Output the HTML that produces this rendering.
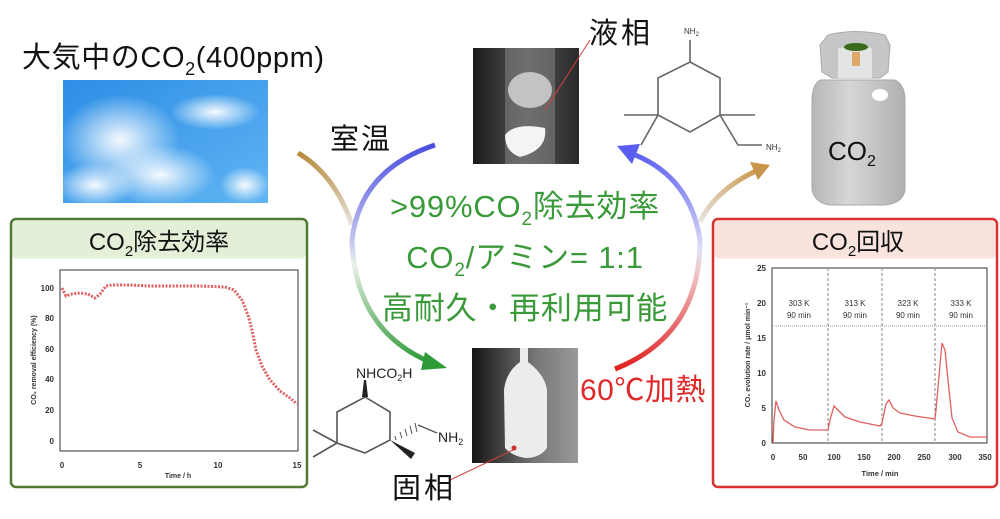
<!DOCTYPE html>
<html><head><meta charset="utf-8"><style>
body{margin:0;width:1000px;height:519px;background:#fff;overflow:hidden;position:relative;font-family:"Liberation Sans","Noto Sans CJK JP",sans-serif}
.t{position:absolute;white-space:nowrap}
</style></head><body>
<svg width="1000" height="519" style="position:absolute;left:0;top:0" font-family="Liberation Sans, Noto Sans CJK JP, sans-serif">
<defs>
<linearGradient id="sky" x1="0" y1="0" x2="1" y2="1"><stop offset="0" stop-color="#2e8ee6"/><stop offset="1" stop-color="#5fb4f2"/></linearGradient>
<radialGradient id="cl1" cx="0.5" cy="0.5" r="0.5"><stop offset="0" stop-color="#fff" stop-opacity="0.95"/><stop offset="1" stop-color="#fff" stop-opacity="0"/></radialGradient>
<linearGradient id="lg1" x1="0" y1="0" x2="0" y2="1"><stop offset="0" stop-color="#4a4ee0"/><stop offset="0.45" stop-color="#c8c8f0"/><stop offset="0.55" stop-color="#e8f0e8"/><stop offset="1" stop-color="#2f9a38"/></linearGradient>
<linearGradient id="lg2" x1="0" y1="1" x2="0" y2="0"><stop offset="0" stop-color="#e02020"/><stop offset="0.45" stop-color="#f0c8c8"/><stop offset="0.55" stop-color="#e0e0f8"/><stop offset="1" stop-color="#5a5ef0"/></linearGradient>
<linearGradient id="och1" x1="0" y1="0" x2="0" y2="1"><stop offset="0" stop-color="#b88a3c"/><stop offset="1" stop-color="#e8e4e0"/></linearGradient>
<linearGradient id="och2" x1="0" y1="1" x2="1" y2="0"><stop offset="0" stop-color="#e8e4e0"/><stop offset="1" stop-color="#c8964a"/></linearGradient>
<linearGradient id="tube1" x1="0" y1="0" x2="1" y2="0"><stop offset="0" stop-color="#1a1a1a"/><stop offset="0.5" stop-color="#555"/><stop offset="1" stop-color="#2a2a2a"/></linearGradient>
<linearGradient id="tube2" x1="0" y1="0" x2="1" y2="0"><stop offset="0" stop-color="#151515"/><stop offset="0.6" stop-color="#777"/><stop offset="1" stop-color="#999"/></linearGradient>
<linearGradient id="cyl" x1="0" y1="0" x2="1" y2="0"><stop offset="0" stop-color="#b4b6b8"/><stop offset="0.4" stop-color="#d4d6d8"/><stop offset="1" stop-color="#aeb0b2"/></linearGradient>
</defs>
<rect x="63" y="80" width="205" height="123" fill="url(#sky)"/>
<ellipse cx="120" cy="140" rx="60" ry="45" fill="url(#cl1)"/>
<ellipse cx="160" cy="175" rx="55" ry="30" fill="url(#cl1)"/>
<ellipse cx="215" cy="112" rx="45" ry="18" fill="url(#cl1)"/>
<ellipse cx="95" cy="185" rx="40" ry="22" fill="url(#cl1)"/>
<ellipse cx="245" cy="185" rx="25" ry="18" fill="url(#cl1)"/>
<path d="M298 153 Q335 175 352 225" stroke="url(#och1)" stroke-width="5" fill="none"/>
<path d="M435 145 Q360 170 352 240 Q355 330 430 362" stroke="url(#lg1)" stroke-width="5" fill="none"/>
<polygon points="447,368 425,352 421,370" fill="#2f9a38"/>
<path d="M615 369 Q700 335 700 240 Q690 175 630 153" stroke="url(#lg2)" stroke-width="5" fill="none"/>
<polygon points="617,146 640,144 632,164" fill="#5a5ef0"/>
<path d="M700 222 Q715 190 758 170" stroke="url(#och2)" stroke-width="5" fill="none"/>
<polygon points="770,165 750,162 758,180" fill="#c8964a"/>
<rect x="473" y="48" width="106" height="116" fill="url(#tube1)"/>
<rect x="505" y="48" width="50" height="116" fill="#8a8a8a" opacity="0.5"/>
<ellipse cx="530" cy="90" rx="22" ry="18" fill="#d8dadc" opacity="0.8"/>
<path d="M505 135 Q515 122 545 128 Q548 150 520 157 Q505 152 505 135Z" fill="#f4f4f4"/>
<line x1="590" y1="40" x2="545" y2="110" stroke="#d04040" stroke-width="1"/>
<rect x="472" y="348" width="106" height="115" fill="url(#tube2)"/>
<path d="M520 348 L528 348 L528 362 Q545 375 547 390 L547 448 Q540 458 525 458 Q512 456 505 448 L504 390 Q506 372 520 362Z" fill="#ececec"/>
<circle cx="514" cy="448" r="2.5" fill="#d03030"/>
<line x1="513" y1="450" x2="450" y2="480" stroke="#d04040" stroke-width="1"/>
<g stroke="#666" stroke-width="1.6" fill="none">
<polygon points="690,62 720,78 720,115 690,132 658,115 658,78"/>
<line x1="690" y1="62" x2="690" y2="40"/>
<line x1="658" y1="115" x2="624" y2="115"/><line x1="658" y1="115" x2="641" y2="145"/>
<line x1="720" y1="115" x2="755" y2="115"/><polyline points="720,115 738,145 762,145"/>
</g>
<text x="684" y="34" font-size="8" fill="#333">NH<tspan font-size="6" dy="2">2</tspan></text>
<text x="766" y="150" font-size="8" fill="#333">NH<tspan font-size="6" dy="2">2</tspan></text>
<path d="M828 35 Q855 28 885 35 L890 45 L888 72 L880 78 L832 78 L822 72 L820 45Z" fill="#c4c6c8" stroke="#a8aaac"/>
<rect x="838" y="48" width="34" height="30" fill="#e2e4e6"/>
<ellipse cx="856" cy="47" rx="12" ry="4" fill="#3c6a1c"/>
<rect x="852" y="52" width="8" height="14" fill="#e0a868"/>
<path d="M820 80 Q812 85 812 100 L812 190 Q815 203 830 205 L885 205 Q903 203 905 190 L905 100 Q905 85 895 80Z" fill="url(#cyl)" stroke="#a8aaac"/>
<ellipse cx="880" cy="95" rx="8" ry="6" fill="#fff"/>
<text x="828" y="160" font-size="26" fill="#111">CO<tspan font-size="16" dy="6">2</tspan></text>
<g stroke="#555" stroke-width="1.6" fill="none">
<polygon points="365,397 390,412 390,440 365,453 337,443 337,412"/>
<line x1="337" y1="443" x2="313" y2="430"/><line x1="337" y1="443" x2="313" y2="457"/>
<line x1="418" y1="425" x2="437" y2="433" stroke-width="1.4"/>
</g>
<polygon points="362,397 368,397 366,380 364,380" fill="#222"/>
<polygon points="390,440 415,453 411,459" fill="#222"/>
<g stroke="#555" stroke-width="1"><line x1="395" y1="436" x2="396" y2="440"/><line x1="400" y1="432" x2="402" y2="438"/><line x1="405" y1="429" x2="407" y2="436"/><line x1="410" y1="426" x2="412" y2="434"/><line x1="415" y1="423" x2="417" y2="432"/></g>
<text x="356" y="378" font-size="14" fill="#222">NHCO<tspan font-size="9" dy="3">2</tspan><tspan dy="-3">H</tspan></text>
<text x="438" y="442" font-size="14" fill="#222">NH<tspan font-size="9" dy="3">2</tspan></text>
<rect x="11" y="219" width="296" height="268" rx="5" fill="#fff" stroke="#4f7a34" stroke-width="2.5"/>
<rect x="12.5" y="220.5" width="293" height="38" rx="4" fill="#e4efd8"/>
<text x="159" y="250" font-size="24" fill="#111" text-anchor="middle">CO<tspan font-size="15" dy="6">2</tspan><tspan dy="-6">除去効率</tspan></text>
<rect x="60" y="270" width="238" height="181" fill="none" stroke="#333" stroke-width="1"/>
<g font-size="8" fill="#333" text-anchor="end" font-weight="bold">
<text x="54" y="291">100</text>
<text x="54" y="321">80</text><text x="54" y="352">60</text><text x="54" y="382">40</text><text x="54" y="413">20</text><text x="54" y="444">0</text>
</g>
<g font-size="8" fill="#333" text-anchor="middle" font-weight="bold"><text x="62" y="468">0</text><text x="140" y="468">5</text><text x="218" y="468">10</text><text x="297" y="468">15</text><text x="178" y="478" font-size="7">Time / h</text></g>
<text transform="translate(36,360) rotate(-90)" font-size="7" fill="#333" text-anchor="middle" font-weight="bold">CO₂ removal efficiency (%)</text>
<polyline fill="none" stroke="#e06060" stroke-width="3" stroke-dasharray="2 1.5" points="62,288 66,296 72,294 80,293 88,294 95,298 100,294 106,286 112,285 130,285 150,286 180,286 200,286 225,287 234,290 242,300 248,315 252,330 256,350 262,366 270,380 280,391 290,398 297,404"/>
<rect x="713" y="219" width="284" height="268" rx="5" fill="#fff" stroke="#d93030" stroke-width="2.5"/>
<rect x="714.5" y="220.5" width="281" height="38" rx="4" fill="#f8e4dc"/>
<text x="858" y="250" font-size="24" fill="#111" text-anchor="middle">CO<tspan font-size="15" dy="6">2</tspan><tspan dy="-6">回収</tspan></text>
<rect x="772" y="268" width="215" height="175" fill="none" stroke="#333" stroke-width="1"/>
<g stroke="#888" stroke-dasharray="3 2" stroke-width="1"><line x1="828" y1="268" x2="828" y2="443"/><line x1="882" y1="268" x2="882" y2="443"/><line x1="935" y1="268" x2="935" y2="443"/></g>
<line x1="772" y1="326" x2="987" y2="326" stroke="#777" stroke-width="0.8" stroke-dasharray="1 1"/>
<g font-size="8" fill="#333" text-anchor="end" font-weight="bold"><text x="766" y="271">25</text><text x="766" y="306">20</text><text x="766" y="341">15</text><text x="766" y="376">10</text><text x="766" y="411">5</text><text x="766" y="446">0</text></g>
<g font-size="8" fill="#333" text-anchor="middle" font-weight="bold"><text x="773" y="460">0</text><text x="803" y="460">50</text><text x="834" y="460">100</text><text x="864" y="460">150</text><text x="894" y="460">200</text><text x="924" y="460">250</text><text x="955" y="460">300</text><text x="985" y="460">350</text><text x="880" y="476" font-size="7.5">Time / min</text></g>
<g font-size="8" fill="#333" text-anchor="middle"><text x="799" y="306">303 K</text><text x="799" y="318">90 min</text><text x="855" y="306">313 K</text><text x="855" y="318">90 min</text><text x="908" y="306">323 K</text><text x="908" y="318">90 min</text><text x="961" y="306">333 K</text><text x="961" y="318">90 min</text></g>
<text transform="translate(750,355) rotate(-90)" font-size="7" fill="#333" text-anchor="middle" font-weight="bold">CO₂ evolution rate / μmol min⁻¹</text>
<polyline fill="none" stroke="#e06060" stroke-width="1.3" points="773,443 774,420 776,401 779,410 784,420 795,427 810,430 828,430 830,420 834,406 838,410 845,417 860,422 880,426 882,423 886,404 889,400 893,408 900,413 915,416 935,419 936,410 940,365 942,343 945,350 948,380 952,418 958,432 970,437 987,437"/>
</svg>
<div class="t" style="left:22px;top:34px;font-size:29px;letter-spacing:0.6px;color:#111">大気中のCO<span style="font-size:18px;position:relative;top:8px">2</span>(400ppm)</div>
<div class="t" style="left:330px;top:116px;font-size:29px;letter-spacing:2px;color:#111">室温</div>
<div class="t" style="left:589px;top:10px;font-size:29px;letter-spacing:3px;color:#111">液相</div>
<div class="t" style="left:392px;top:465px;font-size:29px;letter-spacing:3px;color:#111">固相</div>
<div class="t" style="left:580px;top:365px;font-size:30px;letter-spacing:0.5px;color:#e02a2a">60℃加熱</div>
<div class="t" style="left:370px;top:184px;width:310px;text-align:center;font-size:31px;letter-spacing:0.8px;line-height:46px;color:#3a9a3a">&gt;99%CO<span style="font-size:19px;position:relative;top:8px">2</span>除去効率<br>CO<span style="font-size:19px;position:relative;top:8px">2</span>/アミン= 1:1<br>高耐久・再利用可能</div>
</body></html>
